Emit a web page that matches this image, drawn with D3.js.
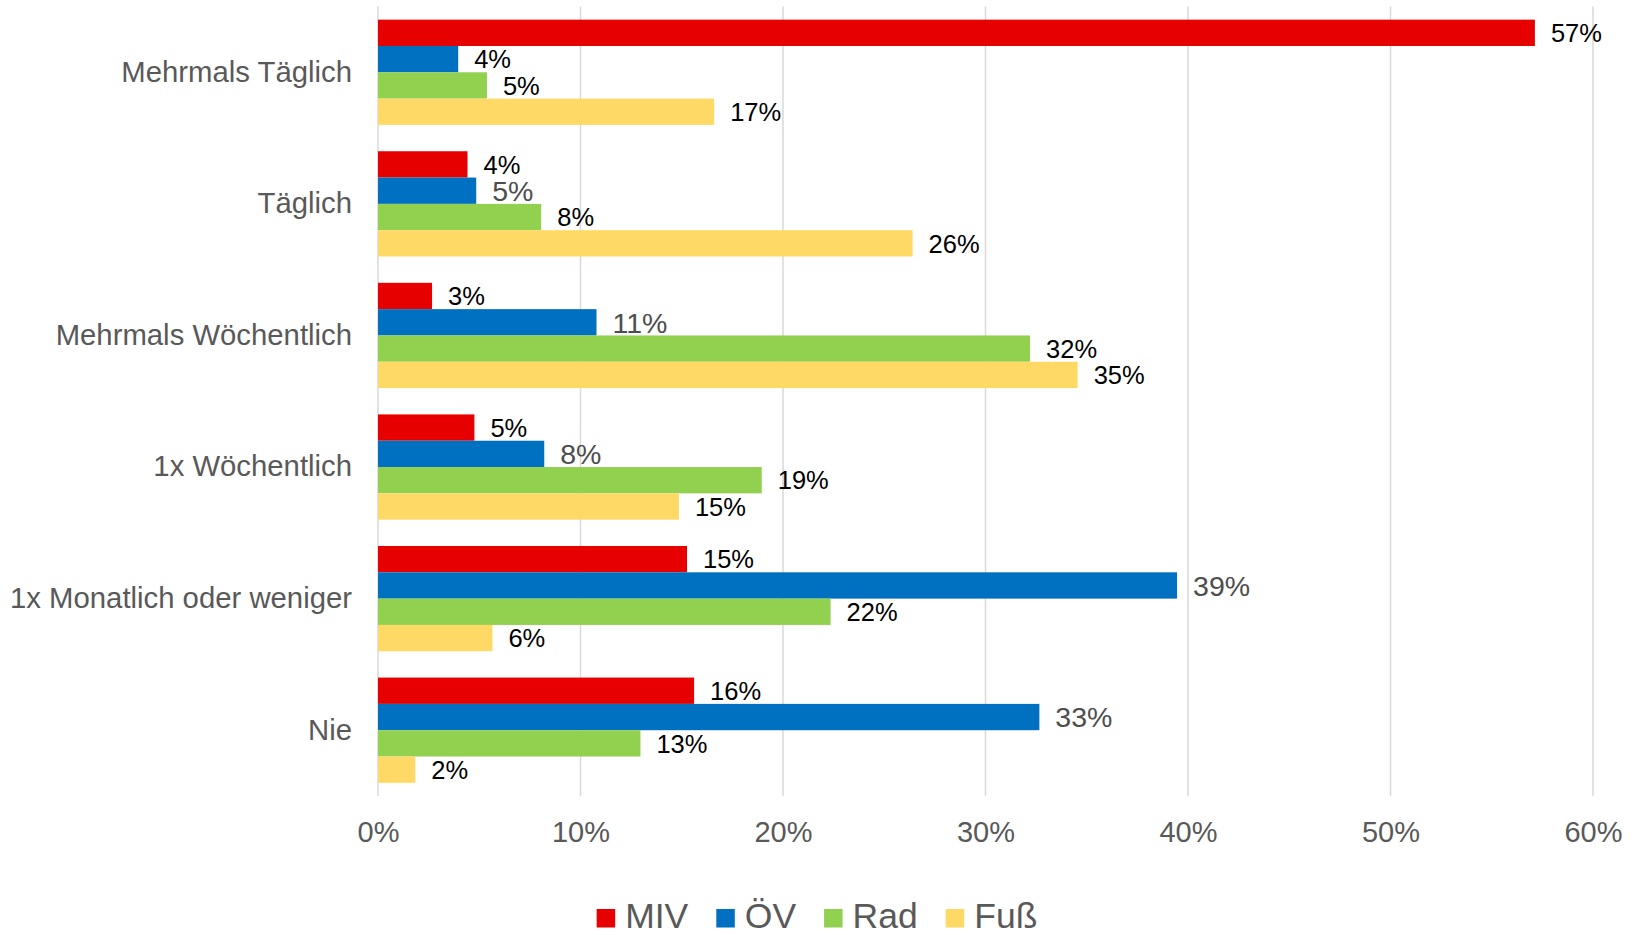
<!DOCTYPE html>
<html>
<head>
<meta charset="utf-8">
<script src="https://cdn.jsdelivr.net/npm/d3@7"></script>
<style>
  html, body { margin: 0; padding: 0; background: #fff; }
  svg { display: block; font-family: "Liberation Sans", Arial, sans-serif; }
</style>
</head>
<body>
<svg id="chart" width="1634" height="935"></svg>
<script>
// Frequency categories (top to bottom)
const categories = [
  "Mehrmals Täglich",
  "Täglich",
  "Mehrmals Wöchentlich",
  "1x Wöchentlich",
  "1x Monatlich oder weniger",
  "Nie"
];

// Transport modes
const seriesNames = ["MIV", "ÖV", "Rad", "Fuß"];

// Share per category, in percent
const mivValues = [57.13, 4.42, 2.67, 4.76, 15.26, 15.61];
const oevValues = [3.96, 4.85, 10.79, 8.21, 39.46, 32.66];
const radValues = [5.38, 8.06, 32.2, 18.95, 22.35, 12.96];
const fussValues = [16.6, 26.4, 34.55, 14.86, 5.65, 1.84];

// Axis ticks
const tickValues = [0, 10, 20, 30, 40, 50, 60];
const tickLabels = ["0%", "10%", "20%", "30%", "40%", "50%", "60%"];

const seriesValues = [mivValues, oevValues, radValues, fussValues];
const colors = ["#E60000", "#0070C0", "#92D050", "#FFD966"];

const svg = d3.select("#chart");
const plot = { left: 378, right: 1593, top: 6.5, bottom: 796 };

const x = d3.scaleLinear().domain([0, 60]).range([plot.left, plot.right]);
const y0 = d3.scaleBand().domain(categories)
  .range([plot.top, plot.bottom]).paddingInner(0.2).paddingOuter(0.1);
const y1 = d3.scaleBand().domain(seriesNames).range([0, y0.bandwidth()]);

// Vertical gridlines
svg.append("g").selectAll("line").data(tickValues).join("line")
  .attr("x1", d => x(d)).attr("x2", d => x(d))
  .attr("y1", plot.top).attr("y2", plot.bottom)
  .attr("stroke", "#D9D9D9").attr("stroke-width", 1.5);

// X axis labels
const xAxis = d3.axisBottom(x).tickValues(tickValues)
  .tickFormat((d, i) => tickLabels[i]).tickSize(0).tickPadding(0);
const xg = svg.append("g").attr("transform", `translate(0,${plot.bottom})`).call(xAxis);
xg.select(".domain").remove();
xg.selectAll("text").attr("font-size", 29).attr("fill", "#595959")
  .attr("font-family", "Liberation Sans, Arial, sans-serif")
  .attr("dy", null).attr("y", 46);

// Category labels
const yAxis = d3.axisLeft(y0).tickSize(0).tickPadding(26);
const yg = svg.append("g").attr("transform", `translate(${plot.left},0)`).call(yAxis);
yg.select(".domain").remove();
yg.selectAll("text").attr("font-size", 29.3).attr("fill", "#595959")
  .attr("font-family", "Liberation Sans, Arial, sans-serif");

// Bars and value labels
const rows = [];
categories.forEach((c, ci) => {
  seriesNames.forEach((s, si) => {
    rows.push({ cat: c, ci, series: s, si, value: seriesValues[si][ci] });
  });
});

// ÖV labels below the first row use the larger grey label style
const greyLabel = d => d.si === 1 && d.ci > 0;

const groups = svg.append("g");
groups.selectAll("rect").data(rows).join("rect")
  .attr("x", x(0))
  .attr("y", d => y0(d.cat) + y1(d.series))
  .attr("width", d => x(d.value) - x(0))
  .attr("height", y1.bandwidth())
  .attr("fill", d => colors[d.si]);

groups.selectAll("text").data(rows).join("text")
  .attr("x", d => x(d.value) + 16)
  .attr("y", d => y0(d.cat) + y1(d.series) + y1.bandwidth() / 2)
  .attr("dy", "0.36em")
  .attr("font-size", d => greyLabel(d) ? 28.5 : 25.5)
  .attr("fill", d => greyLabel(d) ? "#4D4D4D" : "#000000")
  .text(d => Math.round(d.value) + "%");

// Legend
const legend = svg.append("g");
const sq = 18.5, gapText = 10, gapItem = 28, fs = 35.5;
let cx = 0;
seriesNames.forEach((name, i) => {
  const g = legend.append("g");
  g.append("rect").attr("x", 0).attr("y", -18.5).attr("width", sq).attr("height", sq)
    .attr("fill", colors[i]);
  const t = g.append("text").attr("x", sq + gapText).attr("y", 0)
    .attr("font-size", fs).attr("fill", "#595959").text(name);
  const w = sq + gapText + t.node().getComputedTextLength();
  g.attr("transform", `translate(${cx},0)`);
  cx += w + gapItem;
});
const totalW = cx - gapItem;
legend.attr("transform", `translate(${817 - totalW / 2},927.5)`);
</script>
</body>
</html>
